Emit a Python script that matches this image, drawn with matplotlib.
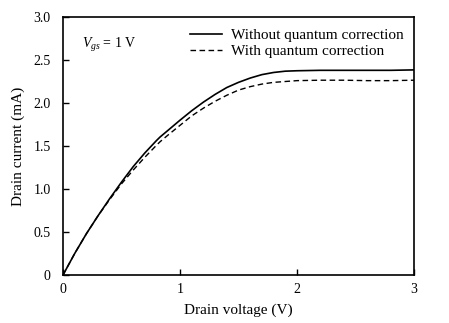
import matplotlib
matplotlib.use("Agg")
import matplotlib.pyplot as plt

plt.rcParams['font.family'] = ['Liberation Serif', 'DejaVu Serif']
plt.rcParams['mathtext.fontset'] = 'custom'
plt.rcParams['mathtext.rm'] = 'Liberation Serif'
plt.rcParams['mathtext.it'] = 'Liberation Serif:italic'

drain_voltage = [0, 0.1, 0.2, 0.3, 0.4, 0.5, 0.6, 0.7, 0.8, 0.83, 0.9, 1.0, 1.1, 1.2,
                 1.3, 1.4, 1.5, 1.6, 1.7, 1.8, 1.9, 2.0, 2.2, 2.4, 2.6, 2.8, 3.0]
current_without = [0, 0.25, 0.48, 0.69, 0.89, 1.08, 1.26, 1.42, 1.565, 1.605, 1.685, 1.80,
                   1.91, 2.01, 2.10, 2.18, 2.24, 2.29, 2.33, 2.355, 2.37, 2.375, 2.38,
                   2.38, 2.38, 2.38, 2.385]
current_with = [0, 0.25, 0.48, 0.69, 0.88, 1.06, 1.22, 1.37, 1.51, 1.55, 1.63, 1.74,
                1.85, 1.94, 2.02, 2.09, 2.15, 2.19, 2.22, 2.24, 2.25, 2.26, 2.265,
                2.265, 2.26, 2.26, 2.265]
x_ticks = [0, 1, 2, 3]
y_ticks = [0, 0.5, 1.0, 1.5, 2.0, 2.5, 3.0]
y_tick_labels = ['0', '0.5', '1.0', '1.5', '2.0', '2.5', '3.0']

fig = plt.figure(figsize=(4.49, 3.23), dpi=100)
ax = fig.add_axes([63/449, 48/323, 351/449, 258/323])

ax.plot(drain_voltage, current_without, color='black', lw=1.2, ls='-',
        label='Without quantum correction')
ax.plot(drain_voltage, current_with, color='black', lw=1.0, ls=(0, (4, 2.5)),
        label='With quantum correction')

ax.set_xlim(0, 3)
ax.set_ylim(0, 3)
ax.set_xticks(x_ticks)
ax.set_xticklabels([str(t) for t in x_ticks])
ax.set_yticks(y_ticks)
ax.set_yticklabels(y_tick_labels)
ax.tick_params(direction='in', length=4, width=1.0, labelsize=10)
ax.tick_params(axis='x', pad=6)
ax.tick_params(axis='y', pad=9)
for s in ax.spines.values():
    s.set_linewidth(1.2)

ax.set_xlabel('Drain voltage (V)', fontsize=11, labelpad=5)
ax.set_ylabel('Drain current (mA)', fontsize=11, labelpad=6)

ax.text(0.055, 0.89, r'$V_{gs}$ = 1 V', transform=ax.transAxes, fontsize=10,
        va='center', ha='left')

leg = ax.legend(loc='upper left', bbox_to_anchor=((190 - 63) / 351, 0.955),
                frameon=False, fontsize=11, handlelength=2.1,
                handletextpad=0.6, borderaxespad=0, borderpad=0,
                labelspacing=0.15)

fig.savefig('out.png', dpi=100)
